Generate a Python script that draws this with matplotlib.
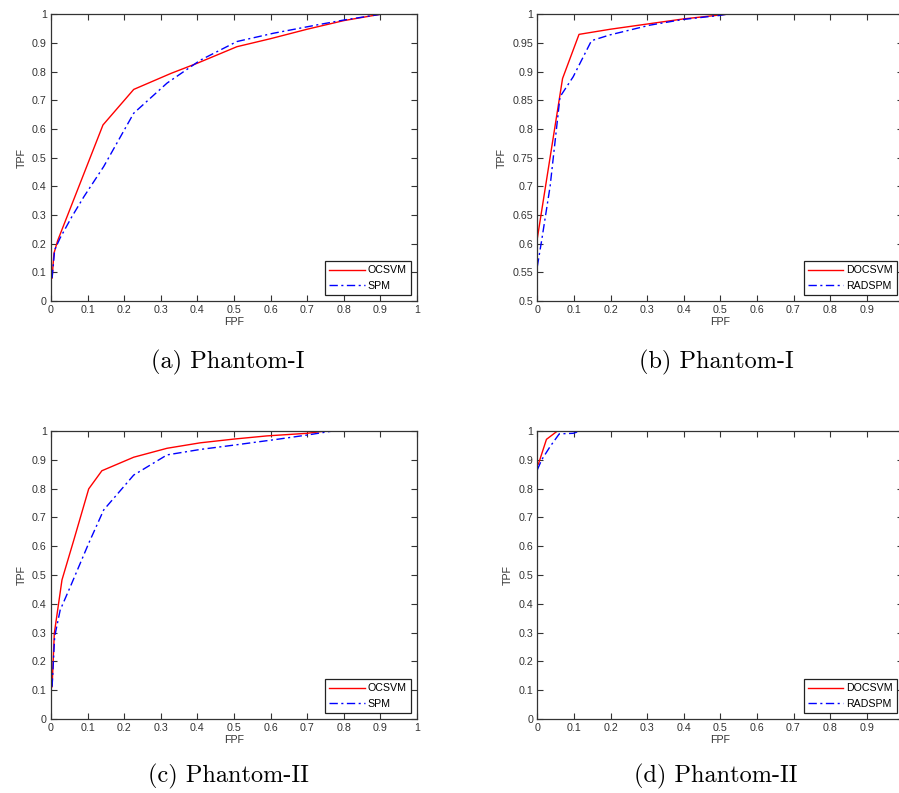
import numpy as np
import matplotlib
matplotlib.use('Agg')
import matplotlib.pyplot as plt

plt.rcParams['font.family'] = ['Liberation Sans', 'DejaVu Sans']

# panel (a) Phantom-I
fpf_a_oc = [0.003, 0.008, 0.018, 0.142, 0.226, 0.328, 0.399, 0.508, 0.6, 0.7, 0.8, 0.9]
tpf_a_oc = [0.08, 0.166, 0.21, 0.614, 0.738, 0.794, 0.829, 0.887, 0.915, 0.948, 0.978, 1.0]
fpf_a_spm = [0.003, 0.01, 0.025, 0.057, 0.09, 0.144, 0.226, 0.317, 0.408, 0.508, 0.608, 0.727, 0.8, 0.9]
tpf_a_spm = [0.08, 0.178, 0.22, 0.294, 0.364, 0.469, 0.655, 0.76, 0.84, 0.905, 0.934, 0.963, 0.98, 1.0]

# panel (b) Phantom-I
fpf_b_oc = [0.0, 0.069, 0.114, 0.2, 0.3, 0.4, 0.516]
tpf_b_oc = [0.609, 0.888, 0.965, 0.974, 0.983, 0.992, 1.0]
fpf_b_rad = [0.0, 0.012, 0.035, 0.062, 0.098, 0.148, 0.198, 0.307, 0.398, 0.498, 0.516]
tpf_b_rad = [0.56, 0.606, 0.70, 0.856, 0.891, 0.954, 0.964, 0.981, 0.991, 0.998, 1.0]

# panel (c) Phantom-II
fpf_c_oc = [0.003, 0.009, 0.03, 0.062, 0.103, 0.139, 0.226, 0.317, 0.408, 0.5, 0.59, 0.7, 0.75]
tpf_c_oc = [0.112, 0.297, 0.483, 0.62, 0.799, 0.862, 0.909, 0.94, 0.959, 0.972, 0.983, 0.992, 1.0]
fpf_c_spm = [0.003, 0.01, 0.025, 0.053, 0.103, 0.144, 0.226, 0.317, 0.408, 0.5, 0.617, 0.7, 0.77]
tpf_c_spm = [0.112, 0.286, 0.378, 0.46, 0.61, 0.726, 0.847, 0.917, 0.936, 0.951, 0.971, 0.986, 1.0]

# panel (d) Phantom-II
fpf_d_oc = [0.003, 0.025, 0.055]
tpf_d_oc = [0.885, 0.971, 1.0]
fpf_d_rad = [0.0, 0.012, 0.035, 0.06, 0.098, 0.118]
tpf_d_rad = [0.865, 0.9, 0.946, 0.99, 0.992, 1.0]

captions = ['(a) Phantom-I', '(b) Phantom-I', '(c) Phantom-II', '(d) Phantom-II']
labels_left = ['OCSVM', 'SPM']
labels_right = ['DOCSVM', 'RADSPM']

W, H = 899, 793
fig = plt.figure(figsize=(W / 100, H / 100), dpi=100)

def px_axes(x0, y0, x1, y1):
    return fig.add_axes([x0 / W, 1 - y1 / H, (x1 - x0) / W, (y1 - y0) / H])

ax_a = px_axes(51, 14.3, 417, 301)
ax_b = px_axes(537.3, 14.3, 903.3, 301)   # runs past the right edge, as in the original
ax_c = px_axes(51, 431, 417, 719)
ax_d = px_axes(537.3, 431, 903.3, 719)

panels = [
    (ax_a, fpf_a_oc, tpf_a_oc, fpf_a_spm, tpf_a_spm, labels_left, (0, 1), np.arange(0, 1.01, 0.1), False),
    (ax_b, fpf_b_oc, tpf_b_oc, fpf_b_rad, tpf_b_rad, labels_right, (0.5, 1), np.arange(0.5, 1.001, 0.05), True),
    (ax_c, fpf_c_oc, tpf_c_oc, fpf_c_spm, tpf_c_spm, labels_left, (0, 1), np.arange(0, 1.01, 0.1), False),
    (ax_d, fpf_d_oc, tpf_d_oc, fpf_d_rad, tpf_d_rad, labels_right, (0, 1), np.arange(0, 1.01, 0.1), True),
]

def fmt(v):
    s = '%.2f' % v
    s = s.rstrip('0').rstrip('.')
    return s

for ax, x1, y1, x2, y2, labs, ylim, yt, cut in panels:
    ax.plot(x1, y1, color='#ff0000', lw=1.0, label=labs[0])
    ax.plot(x2, y2, color='#0000ff', lw=1.0, ls=(0, (6, 2.5, 1.5, 2.5)), label=labs[1])
    ax.set_xlim(0, 1)
    ax.set_ylim(*ylim)
    xt = np.arange(0, 1.01, 0.1)
    ax.set_xticks(xt)
    xl = [fmt(v) for v in xt]
    if cut:
        xl[-1] = ''   # the "1" label falls off the page
    ax.set_xticklabels(xl)
    ax.set_yticks(yt)
    ax.set_yticklabels([fmt(v) for v in yt])
    ax.tick_params(direction='in', length=4, width=0.8, top=True, right=True,
                   labelsize=7.7, pad=3, colors='#333333')
    for sp in ax.spines.values():
        sp.set_linewidth(0.9)
        sp.set_color('#333333')
    ax.set_xlabel('FPF', fontsize=7.7, labelpad=1.5, color='#333333')
    ax.set_ylabel('TPF', fontsize=7.7, labelpad=4, color='#333333')
    leg = ax.legend(loc='lower right', fontsize=7.7, fancybox=False, framealpha=1,
                    edgecolor='#222222', handlelength=3.3, handletextpad=0.3,
                    borderpad=0.4, labelspacing=0.5, borderaxespad=0.56)
    leg.get_frame().set_linewidth(0.9)

cap_pos = [(228, 362), (716, 362), (228, 776), (716, 776)]
for (cx, cy), txt in zip(cap_pos, captions):
    fig.text(cx / W, 1 - cy / H, txt, fontsize=17.5, family='cmr10',
             ha='center', va='center')

fig.savefig('out.png', dpi=100)
